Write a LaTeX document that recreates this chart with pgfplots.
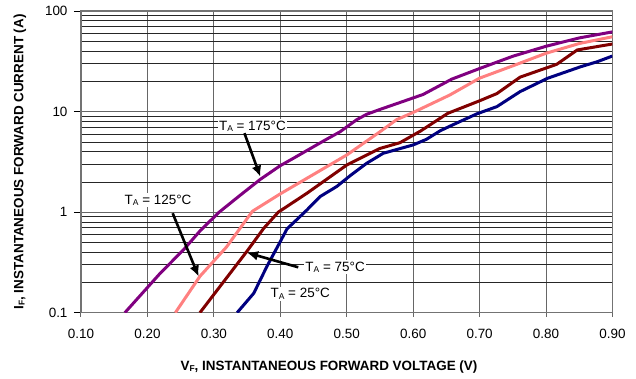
\documentclass[border=0pt]{standalone}
\usepackage{fontspec}
\setmainfont{Liberation Sans}
\usepackage{pgfplots}
\pgfplotsset{compat=1.18}
\usetikzlibrary{arrows.meta}
\definecolor{c175}{HTML}{800080}
\definecolor{c125}{HTML}{FF8080}
\definecolor{c75}{HTML}{800000}
\definecolor{c25}{HTML}{000080}
\newcommand{\TA}[1]{T\raisebox{-1.2bp}{\fontsize{8.5}{8.5}\selectfont A} = #1°C}
\begin{document}
\begin{tikzpicture}
\useasboundingbox (-81bp,-66.3bp) rectangle (555bp,312.7bp);
\begin{axis}[
  at={(0,0)}, anchor=south west,
  scale only axis, width=531.5bp, height=301.7bp,
  xmin=0.1, xmax=0.9, ymin=0.1, ymax=100, ymode=log, log basis y=10,
  xtick={0.1,0.2,0.3,0.4,0.5,0.6,0.7,0.8,0.9},
  xticklabels={0.10,0.20,0.30,0.40,0.50,0.60,0.70,0.80,0.90},
  ytick={0.1,1,10,100}, yticklabels={0.1,1,10,100},
  minor ytick={0.2,0.3,0.4,0.5,0.6,0.7,0.8,0.9,2,3,4,5,6,7,8,9,20,30,40,50,60,70,80,90},
  xmajorgrids=true, ymajorgrids=true, yminorgrids=true,
  major grid style={black!60, line width=0.9bp},
  minor grid style={black!85, line width=0.6bp},
  tick pos=left, tick align=outside,
  major tick length=7bp, minor tick length=0pt,
  xtick style={/pgfplots/major tick length=4bp, black!60, line width=1bp},
  ytick style={black, line width=0.8bp},
  axis line style={black!55, line width=1.2bp},
  tick label style={font=\fontsize{13.5}{15}\selectfont},
  xticklabel style={yshift=-6bp},
  yticklabel style={xshift=-3bp},
  clip=true,
]
% T_A = 175 C
\addplot[c175, line width=3bp] coordinates {
(0.166,0.1)(0.22,0.25)(0.254,0.42)(0.28,0.66)(0.308,1.0)(0.34,1.48)(0.37,2.12)(0.40,2.9)
(0.42,3.44)(0.465,5.1)(0.49,6.3)(0.515,8.3)(0.53,9.4)(0.55,10.5)(0.58,12.3)(0.615,14.8)
(0.658,21)(0.70,26.8)(0.75,35.5)(0.80,44.6)(0.85,54)(0.90,62)};
% T_A = 125 C
\addplot[c125, line width=3bp] coordinates {
(0.242,0.1)(0.279,0.23)(0.319,0.45)(0.358,1.02)(0.40,1.52)(0.44,2.17)(0.50,3.7)
(0.55,6.3)(0.575,8.3)(0.60,9.8)(0.655,14.6)(0.70,21.5)(0.75,28.5)(0.80,38)(0.85,47.5)(0.90,55.5)};
% T_A = 75 C
\addplot[c75, line width=3bp] coordinates {
(0.279,0.1)(0.35,0.41)(0.375,0.69)(0.397,1.0)(0.44,1.54)(0.50,2.94)(0.55,4.3)
(0.58,4.9)(0.611,6.4)(0.652,9.6)(0.70,12.8)(0.726,15.1)(0.761,22)(0.816,29.5)(0.847,41)(0.90,47)};
% T_A = 25 C
\addplot[c25, line width=3bp] coordinates {
(0.335,0.1)(0.36,0.156)(0.38,0.29)(0.40,0.51)(0.41,0.68)(0.44,1.05)(0.46,1.43)
(0.485,1.8)(0.505,2.3)(0.53,3.06)(0.555,3.85)(0.60,4.66)(0.62,5.3)(0.641,6.46)
(0.66,7.4)(0.696,9.5)(0.726,11.2)(0.761,15.8)(0.802,21.4)(0.852,27.9)(0.877,31.3)(0.90,35.7)};

\tikzset{lab/.style={fill=white, inner sep=1.5bp, font=\fontsize{13.5}{15}\selectfont},
         arr/.style={line width=2.6bp, -{Latex[length=11bp,width=10bp]}}}
\node[lab] at (axis cs:0.358,7.2) {\TA{175}};
\draw[arr] (axis cs:0.346,6.1) -- (axis cs:0.370,2.25);
\node[lab] at (axis cs:0.216,1.32) {\TA{125}};
\draw[arr] (axis cs:0.238,0.975) -- (axis cs:0.277,0.229);
\node[lab] at (axis cs:0.4825,0.285) {\TA{75}};
\draw[arr] (axis cs:0.427,0.283) -- (axis cs:0.35,0.395);
\node[lab] at (axis cs:0.43,0.154) {\TA{25}};
\end{axis}
\node[font=\bfseries\fontsize{13.5}{15}\selectfont] at (248bp,-54.3bp) {V\raisebox{-1.2bp}{\fontsize{8.5}{8.5}\selectfont F}, INSTANTANEOUS FORWARD VOLTAGE (V)};
\node[font=\bfseries\fontsize{13.5}{15}\selectfont, rotate=90] at (-61bp,150.85bp) {I\raisebox{-1.2bp}{\fontsize{8.5}{8.5}\selectfont F}, INSTANTANEOUS FORWARD CURRENT (A)};
\end{tikzpicture}
\end{document}
